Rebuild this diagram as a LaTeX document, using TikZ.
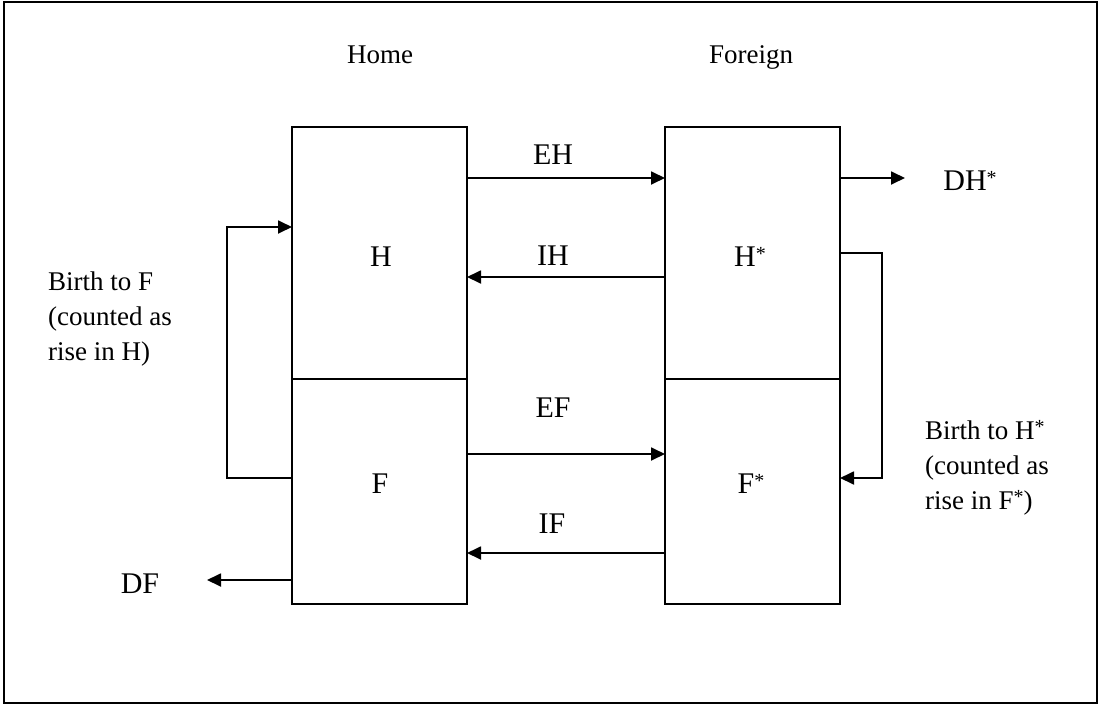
\documentclass[tikz,border=0pt]{standalone}
\usepackage{fontspec}
\setmainfont{Liberation Serif}
\usetikzlibrary{arrows.meta,calc}
\newcommand\sstar{\raisebox{6pt}{\fontsize{20}{20}\selectfont *}}
\tikzset{
  box/.style={draw,line width=1.8pt,minimum width=175pt,inner sep=0pt,outer sep=0pt},
  arr/.style={line width=1.8pt,-{Triangle[length=14pt,width=13pt]}},
  plain/.style={font=\fontsize{27}{35}\selectfont,inner sep=0pt},
  lab/.style={font=\fontsize{30}{35}\selectfont,inner sep=0pt},
}
\begin{document}
\begin{tikzpicture}[x=1pt,y=-1pt]
\useasboundingbox (0,0) rectangle (1101,707);
\draw[line width=2pt] (4,2) rectangle (1097,703);
% boxes
\node[box,minimum height=252pt] (H) at (379.5,253) {};
\node[box,minimum height=225pt] (F) at (379.5,491.5) {};
\node[box,minimum height=252pt] (Hs) at (752.5,253) {};
\node[box,minimum height=225pt] (Fs) at (752.5,491.5) {};
% box letters
\node[lab] (tH) at (381,257) {H};
\node[lab] (tF) at (380,484) {F};
\node[lab] (tHs) at (750,257) {H\sstar};
\node[lab] (tFs) at (751,484) {F\sstar};
% headings
\node[plain,anchor=base] (home) at (380,63) {Home};
\node[plain,anchor=base] (foreign) at (751,63) {Foreign};
% arrows between boxes
\draw[arr] ($(H.north east)+(0,51)$) -- ($(Hs.north west)+(0,51)$);
\draw[arr] ($(Hs.north west)+(0,150)$) -- ($(H.north east)+(0,150)$);
\draw[arr] ($(F.north east)+(0,75)$) -- ($(Fs.north west)+(0,75)$);
\draw[arr] ($(Fs.north west)+(0,174)$) -- ($(F.north east)+(0,174)$);
\node[lab] (eh) at (553,155) {EH};
\node[lab] (ih) at (553,256) {IH};
\node[lab] (ef) at (553,408) {EF};
\node[lab] (if) at (552,524) {IF};
% outflows
\coordinate (dhend) at (905,178);
\draw[arr] ($(Hs.north east)+(0,51)$) -- (dhend);
\node[lab] (dh) at (970,181) {DH\sstar};
\coordinate (dfend) at (207,580);
\draw[arr] ($(F.north west)+(0,201)$) -- (dfend);
\node[lab] (df) at (140,584) {DF};
% births
\draw[arr] ($(Hs.north east)+(0,126)$) -- ++(42,0) |- ($(Fs.north east)+(0,99)$);
\draw[arr] ($(F.north west)+(0,99)$) -- ++(-65,0) |- ($(H.north west)+(0,100)$);
\node[plain,align=left,anchor=west] (bf) at (48,319) {Birth to F\\(counted as\\rise in H)};
\node[plain,align=left,anchor=west] (bh) at (925,468) {Birth to H\sstar\\(counted as\\rise in F\sstar)};
\end{tikzpicture}
\end{document}
